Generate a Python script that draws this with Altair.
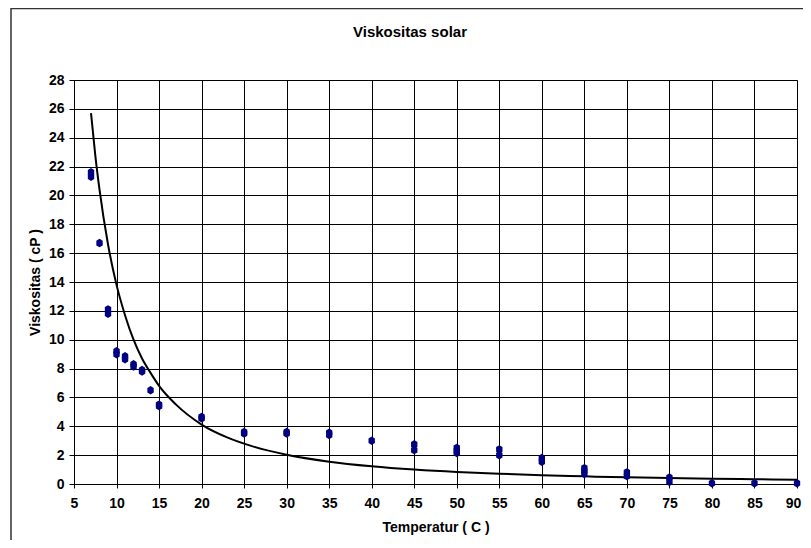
import altair as alt
import pandas as pd

# measured points (temperature in C, viscosity in cP)
temp = [7, 7, 8, 9, 9, 10, 10, 11, 11, 12, 12, 13, 13, 14, 15, 15, 20, 20, 25, 25,
        30, 30, 35, 35, 40, 45, 45, 50, 50, 50, 55, 55, 60, 60, 65, 65, 65, 70, 70,
        75, 75, 80, 85, 90]
visc = [21.3, 21.6, 16.7, 12.1, 11.8, 9.2, 9.0, 8.85, 8.65, 8.3, 8.15, 7.9, 7.8, 6.5,
        5.5, 5.4, 4.65, 4.55, 3.6, 3.5, 3.6, 3.5, 3.55, 3.4, 3.0, 2.75, 2.35, 2.5, 2.3,
        2.15, 2.4, 2.0, 1.8, 1.55, 1.1, 0.9, 0.7, 0.8, 0.55, 0.45, 0.15, 0.05, 0.05, 0.05]

# trend line
curve_t = [7, 7.5, 8, 9, 10, 11, 12, 13, 14, 15, 17, 20, 23, 26, 30, 35, 40, 45, 50,
           55, 60, 65, 70, 75, 80, 85, 90]
curve_v = [25.7, 22.8, 20.4, 16.6, 13.8, 11.7, 10.0, 8.7, 7.7, 6.8, 5.5, 4.12, 3.23,
           2.61, 2.03, 1.55, 1.23, 1.0, 0.83, 0.71, 0.61, 0.53, 0.46, 0.41, 0.37, 0.33, 0.30]

x_ticks = list(range(5, 91, 5))
y_ticks = list(range(0, 29, 2))

chart_title = "Viskositas solar"
x_title = "Temperatur ( C )"
y_title = "Viskositas ( cP )"

FONT = "Liberation Sans"
W, H = 723, 404

pts = pd.DataFrame({"t": temp, "v": visc})
crv = pd.DataFrame({"t": curve_t, "v": curve_v})

xs = alt.Scale(domain=[5, 90], nice=False, zero=False)
ys = alt.Scale(domain=[0, 28], nice=False)

x_axis = alt.Axis(values=x_ticks, title=x_title, grid=True, gridColor="#000000",
                  gridWidth=1, domainColor="#000000", tickColor="#000000", tickSize=4,
                  labelFont=FONT, labelFontSize=14, labelFontWeight="bold",
                  labelColor="#000000", labelPadding=8, titleFont=FONT,
                  titleFontSize=14, titleFontWeight="bold", titleColor="#000000",
                  titlePadding=10, labelFlush=False, labelOverlap=False,
                  labelOffset={"expr": "datum.value == 90 ? -4 : 0"})
y_axis = alt.Axis(values=y_ticks, title=y_title, grid=True, gridColor="#000000",
                  gridWidth=1, domainColor="#000000", tickColor="#000000", tickSize=5,
                  labelFont=FONT, labelFontSize=14, labelFontWeight="bold",
                  labelColor="#000000", labelPadding=5, titleFont=FONT,
                  titleFontSize=14, titleFontWeight="bold", titleColor="#000000",
                  titlePadding=6, labelFlush=False, labelOverlap=False)

frame = alt.Chart(alt.Data(values=[{}])).mark_rect(
    fill=None, stroke="#333333", strokeWidth=1.5
).encode(x=alt.value(-63), x2=alt.value(W + 60), y=alt.value(-71.5), y2=alt.value(H + 120))

title = alt.Chart(alt.Data(values=[{"txt": chart_title}])).mark_text(
    font=FONT, fontSize=15, fontWeight="bold", color="#000000",
    align="center", baseline="middle"
).encode(text="txt:N", x=alt.value(336), y=alt.value(-48))

line = alt.Chart(crv).mark_line(color="#000000", strokeWidth=2, interpolate="monotone").encode(
    x=alt.X("t:Q", scale=xs, axis=x_axis),
    y=alt.Y("v:Q", scale=ys, axis=y_axis),
)

marker = "M0,-1L0.75,-0.55L0.75,0.55L0,1L-0.75,0.55L-0.75,-0.55Z"
points = alt.Chart(pts).mark_point(
    shape=marker, size=72, filled=True, fill="#000080", stroke=None, opacity=1
).encode(
    x=alt.X("t:Q", scale=xs, axis=x_axis),
    y=alt.Y("v:Q", scale=ys, axis=y_axis),
)

chart = alt.layer(frame, line, points, title).properties(
    width=W, height=H,
    autosize=alt.AutoSizeParams(type="none"),
    padding={"left": 66, "top": 72, "right": 6, "bottom": 56},
    background="#ffffff",
).configure_view(
    stroke="#808080", strokeWidth=1
).configure_axis(labelOverlap=False)

chart.save("out.html", embed_options={"renderer": "svg", "actions": False})
